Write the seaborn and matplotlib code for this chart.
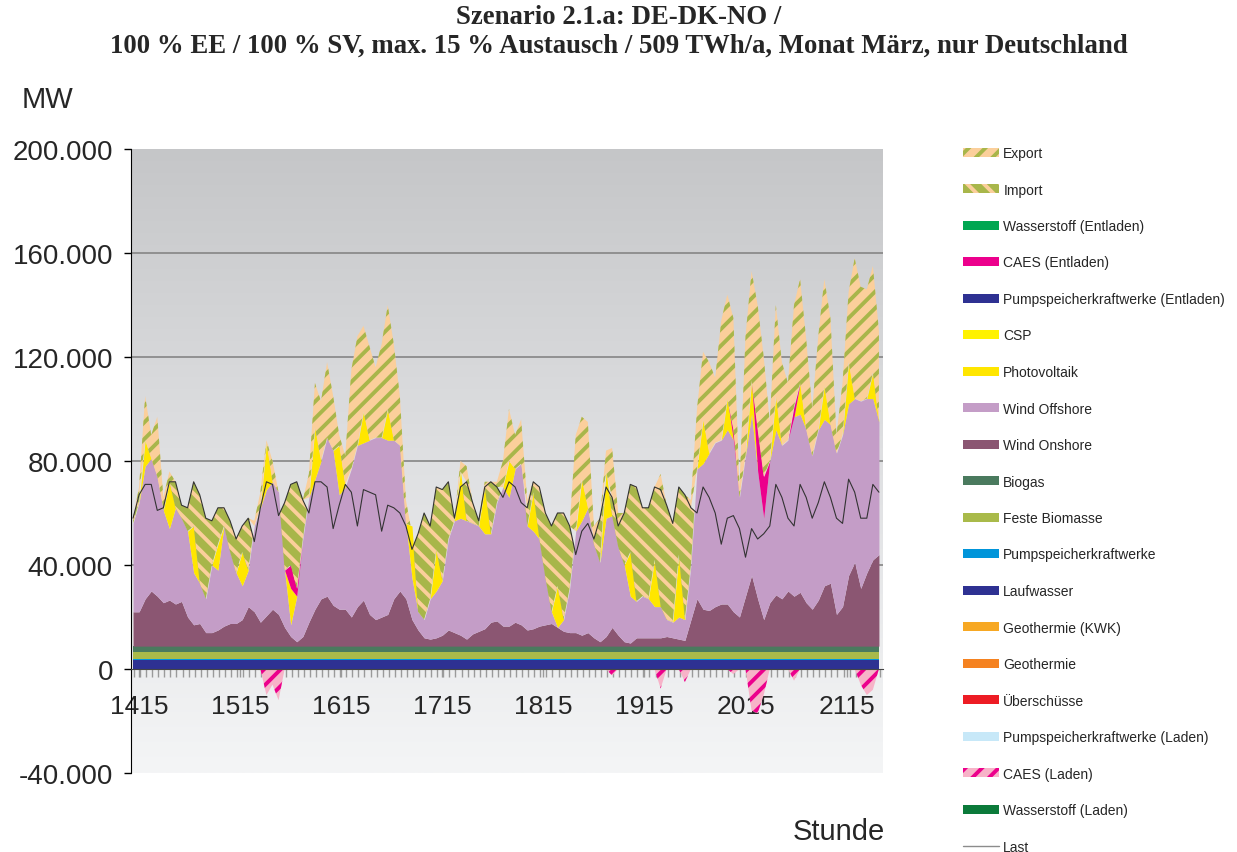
import numpy as np
import matplotlib
matplotlib.use("Agg")
import matplotlib.pyplot as plt
import matplotlib.patches as mpatches
from matplotlib.lines import Line2D
from matplotlib.colors import LinearSegmentedColormap
from matplotlib.ticker import MultipleLocator, FixedLocator, FuncFormatter
import seaborn as sns

sns.set_style("white")
plt.rcParams['font.family'] = ['Liberation Sans', 'DejaVu Sans']
plt.rcParams['hatch.linewidth'] = 2.8

# Stunden des Jahres (Maerz), Werte alle 6 h
stunden = np.arange(1409, 2150, 6)

# Sockel in MW (ueber den Monat praktisch konstant)
laufwasser = 3400
pumpspeicher = 500
feste_biomasse = 2600
biogas = 2300

# Oberkante Wind Onshore (1000 MW, gestapelt)
oberkante_onshore = [
    22, 22, 27, 30, 28, 25.5, 26.5, 25, 26, 20, 17, 17.5, 14, 14, 15, 16.5, 17.5, 17.5, 19, 24, 22,
    18, 20.5, 23, 21, 16, 12.5, 10.5, 12.5, 18, 23, 27, 28, 24.5, 23, 23, 20, 24, 26.5, 21, 19, 20,
    21, 27, 30, 27, 19, 15, 12, 11.5, 12, 13, 15, 14, 13, 11.5, 13.5, 14.5, 15.5, 18, 18.5, 16.5, 16.5,
    18, 17, 15, 15.5, 16.5, 17, 17.5, 16, 14.5, 14, 14, 13, 14, 12, 10.5, 12.5, 16, 13, 10.5, 10,
    12, 12, 12, 12, 12, 12.5, 12, 11.5, 11, 19, 27, 23, 22.5, 24, 25, 25, 22, 20, 28, 36,
    27, 19, 25.5, 28.5, 27, 30, 28, 29.5, 25.5, 23, 26.5, 32, 33, 21, 24, 36, 41, 31, 37, 42, 44]

# Oberkante Wind Offshore (1000 MW, gestapelt)
oberkante_offshore = [
    56, 64, 78, 81, 74, 61, 54, 62, 58, 53, 37, 33, 27, 40, 38, 55, 45, 37, 32, 38, 55,
    62, 69, 72, 68, 38, 17, 28, 50, 66, 73, 80, 89, 84, 67, 70, 77, 86, 87, 88, 89, 89,
    88, 88, 86, 56, 35, 22, 19, 27, 30, 34, 50, 57, 58, 57, 56, 55, 52, 52, 64, 70, 66,
    77, 79, 55, 53, 50, 35, 22, 16, 19, 31, 53, 57, 62, 48, 41, 58, 59, 47, 40, 28,
    26, 28, 27, 24, 24, 19, 18, 20, 19, 40, 77, 79, 83, 87, 88, 92, 88, 66, 82, 98,
    76, 58, 80, 92, 86, 88, 97, 98, 92, 82, 92, 96, 94, 83, 90, 102, 104, 103, 104, 104, 95]

# Photovoltaik (1000 MW)
photovoltaik = [
    0, 0, 10, 0, 0, 0, 18, 0, 0, 0, 18, 0, 0, 0, 10, 0, 0, 0, 13, 0, 0,
    0, 18, 0, 0, 0, 14, 0, 0, 0, 20, 0, 0, 0, 19, 0, 0, 0, 12, 0, 0, 0,
    12, 0, 0, 0, 20, 0, 0, 0, 16, 0, 0, 0, 18, 0, 0, 0, 18, 0, 0, 0, 14,
    0, 0, 0, 15, 0, 0, 0, 16, 0, 0, 0, 16, 0, 0, 0, 18, 0, 0, 0, 17,
    0, 0, 0, 18, 0, 0, 0, 24, 0, 0, 0, 17, 0, 0, 0, 12, 0, 0, 0, 13,
    0, 0, 0, 13, 0, 0, 0, 12, 0, 0, 0, 13, 0, 0, 0, 16, 0, 0, 0, 10, 0]

# CAES Entladen (1000 MW)
caes_entladen = [
    0, 0, 0, 0, 0, 0, 0, 0, 0, 0, 0, 0, 0, 0, 0, 0, 0, 0, 0, 0, 0,
    0, 0, 0, 0, 0, 9, 3, 0, 0, 0, 0, 0, 0, 0, 0, 0, 0, 0, 0, 0, 0,
    0, 0, 0, 0, 0, 0, 0, 0, 0, 0, 0, 0, 0, 0, 0, 0, 0, 0, 0, 0, 0,
    0, 0, 0, 0, 0, 0, 0, 0, 0, 0, 0, 0, 0, 0, 0, 0, 0, 0, 0, 0,
    0, 0, 0, 0, 0, 0, 0, 0, 0, 0, 0, 0, 0, 0, 0, 0, 4, 0, 0, 0,
    16, 16, 0, 0, 0, 0, 4, 0, 0, 0, 0, 0, 0, 0, 0, 0, 0, 0, 0, 0, 0]

# CAES Laden (1000 MW, nach unten)
caes_laden = [
    0, 0, 0, 0, 0, 0, 0, 0, 0, 0, 0, 0, 0, 0, 0, 0, 0, 0, 0, 0, 0,
    0, 10, 6, 12, 0, 0, 0, 0, 0, 0, 0, 0, 0, 0, 0, 0, 0, 0, 0, 0, 0,
    0, 0, 0, 0, 0, 0, 0, 0, 0, 0, 0, 0, 0, 0, 0, 0, 0, 0, 0, 0, 0,
    0, 0, 0, 0, 0, 0, 0, 0, 0, 0, 0, 0, 0, 0, 0, 0, 2.5, 0, 0, 0,
    0, 0, 0, 0, 7.5, 0, 0, 0, 5, 0, 0, 0, 0, 0, 0, 0, 2, 0, 0, 16,
    17, 10, 0, 0, 0, 0, 4.5, 0, 0, 0, 0, 0, 0, 0, 0, 0, 0, 6, 10, 8, 0]

# Last (1000 MW)
last = [
    58, 67, 71, 71, 61, 62, 72, 72, 63, 62, 72, 67, 58, 57, 62, 62, 57, 50, 55, 58, 49,
    62, 72, 71, 59, 64, 71, 72, 65, 60, 72, 72, 70, 54, 63, 71, 68, 55, 69, 68, 67, 53,
    63, 62, 60, 55, 46, 52, 60, 55, 70, 69, 72, 58, 70, 72, 64, 57, 70, 72, 70, 66, 72,
    70, 64, 62, 72, 70, 60, 55, 60, 60, 55, 44, 53, 56, 50, 58, 70, 66, 55, 60, 71,
    70, 62, 62, 70, 69, 63, 56, 70, 67, 62, 60, 70, 66, 60, 48, 58, 59, 54, 43, 54,
    50, 52, 55, 71, 66, 58, 55, 71, 66, 58, 64, 72, 66, 58, 56, 73, 68, 58, 58, 71, 68]

# Oberkante Import/Export (1000 MW)
oberkante_austausch = [
    58, 70, 105, 90, 97, 66, 76, 72, 63, 62, 72, 67, 58, 57, 62, 62, 57, 50, 55, 58, 57,
    68, 88, 80, 68, 64, 71, 72, 65, 75, 110, 103, 118, 105, 90, 82, 115, 128, 132, 124, 116, 125,
    140, 125, 105, 65, 52, 52, 60, 55, 70, 69, 72, 58, 80, 78, 64, 57, 72, 72, 72, 80, 100,
    90, 96, 65, 72, 70, 60, 55, 60, 60, 55, 90, 97, 95, 55, 58, 84, 85, 60, 60, 71,
    70, 62, 62, 70, 75, 63, 56, 70, 67, 65, 100, 122, 118, 112, 134, 144, 135, 70, 128, 153,
    140, 120, 95, 140, 118, 110, 140, 150, 127, 100, 128, 150, 135, 90, 110, 145, 158, 147, 146, 155, 130]

farben = {
    'Export': '#fbcf9b', 'Import': '#a8b64a', 'Wasserstoff (Entladen)': '#00a651',
    'CAES (Entladen)': '#ec008c', 'Pumpspeicherkraftwerke (Entladen)': '#2e3192',
    'CSP': '#fff200', 'Photovoltaik': '#ffe600', 'Wind Offshore': '#c49dc7',
    'Wind Onshore': '#8b5672', 'Biogas': '#4a7a5e', 'Feste Biomasse': '#a9ba4a',
    'Pumpspeicherkraftwerke': '#0095da', 'Laufwasser': '#2e3192',
    'Geothermie (KWK)': '#f7a823', 'Geothermie': '#f58220', 'Überschüsse': '#ed1c24',
    'Pumpspeicherkraftwerke (Laden)': '#c7e8f8', 'CAES (Laden)': '#f7b3c8',
    'Wasserstoff (Laden)': '#0b7a3a',
}

k = 1000.0
on_top = np.array(oberkante_onshore) * k
off_top = np.array(oberkante_offshore) * k
pv_top = off_top + np.array(photovoltaik) * k
gen_top = pv_top + np.array(caes_entladen) * k
last_mw = np.array(last) * k
aus_top = np.array(oberkante_austausch) * k

s1 = laufwasser
s2 = s1 + pumpspeicher
s3 = s2 + feste_biomasse
s4 = s3 + biogas

fig = plt.figure(figsize=(12.37, 8.53), dpi=100)
ax = fig.add_axes([0.1059, 0.0926, 0.6079, 0.7316])

xmin, xmax = 1407, 2151
grad = np.linspace(0, 1, 256).reshape(-1, 1)
bg = LinearSegmentedColormap.from_list('bg', ['#c5c6c8', '#dfe0e2', '#f4f5f6'])
ax.imshow(grad, cmap=bg, aspect='auto', extent=[xmin, xmax, -40000, 200000], zorder=0)

for v in range(40000, 200000, 40000):
    ax.axhline(v, color='#858585', lw=1.2, zorder=1)

kw = dict(linewidth=0, zorder=2)
ax.fill_between(stunden, 0, s1, color=farben['Laufwasser'], **kw)
ax.fill_between(stunden, s1, s2, color=farben['Pumpspeicherkraftwerke'], **kw)
ax.fill_between(stunden, s2, s3, color=farben['Feste Biomasse'], **kw)
ax.fill_between(stunden, s3, s4, color=farben['Biogas'], **kw)
ax.fill_between(stunden, s4, np.maximum(on_top, s4), color=farben['Wind Onshore'], **kw)
ax.fill_between(stunden, on_top, off_top, color=farben['Wind Offshore'], **kw)
ax.fill_between(stunden, off_top, pv_top, color=farben['Photovoltaik'], **kw)
ax.fill_between(stunden, pv_top, gen_top, color=farben['CAES (Entladen)'], **kw)

# Import bis zur Last, Export darueber
ax.fill_between(stunden, gen_top, last_mw, where=last_mw > gen_top, interpolate=True,
                facecolor=farben['Import'], edgecolor=farben['Export'], hatch='\\\\',
                linewidth=0, zorder=2)
unten = np.maximum(gen_top, last_mw)
ax.fill_between(stunden, unten, aus_top, where=aus_top > unten, interpolate=True,
                facecolor=farben['Export'], edgecolor=farben['Import'], hatch='//',
                linewidth=0, zorder=2)

# CAES Laden unter der Nulllinie
ax.fill_between(stunden, 0, -np.array(caes_laden) * k, facecolor=farben['CAES (Laden)'],
                edgecolor=farben['CAES (Entladen)'], hatch='//', linewidth=0, zorder=2)

sns.lineplot(x=stunden, y=last_mw, ax=ax, color='#333333', lw=0.8, zorder=3)

ax.set_xlim(xmin, xmax)
ax.set_ylim(-40000, 200000)
ax.spines['top'].set_visible(False)
ax.spines['right'].set_visible(False)
ax.spines['left'].set_color('black')
ax.spines['bottom'].set_position(('data', 0))
ax.spines['bottom'].set_color('#444444')
ax.spines['bottom'].set_zorder(4)

ax.xaxis.set_major_locator(FixedLocator(range(1415, 2116, 100)))
ax.xaxis.set_minor_locator(MultipleLocator(6))
ax.tick_params(axis='x', which='both', direction='out', length=6, width=1,
               color='#9a9a9a', labelsize=19, pad=12, bottom=True)
ax.set_yticks(range(-40000, 200001, 40000))
ax.yaxis.set_major_formatter(FuncFormatter(lambda v, p: f"{int(v):,}".replace(',', '.')))
ax.tick_params(axis='y', direction='out', length=5, width=1, color='black',
               labelsize=20, pad=8, left=True)

fig.text(0.5, 1 - 18 / 853, 'Szenario 2.1.a: DE-DK-NO /', ha='center', va='center',
         fontsize=19.3, fontweight='bold', family='Liberation Serif')
fig.text(0.5, 1 - 46 / 853,
         '100 % EE / 100 % SV, max. 15 % Austausch / 509 TWh/a, Monat März, nur Deutschland',
         ha='center', va='center', fontsize=19.3, fontweight='bold', family='Liberation Serif')
fig.text(22 / 1237, 1 - 100 / 853, 'MW', ha='left', va='center', fontsize=21)
fig.text(885 / 1237, 1 - 832 / 853, 'Stunde', ha='right', va='center', fontsize=21)

# Legende
reihenfolge = ['Export', 'Import', 'Wasserstoff (Entladen)', 'CAES (Entladen)',
               'Pumpspeicherkraftwerke (Entladen)', 'CSP', 'Photovoltaik', 'Wind Offshore',
               'Wind Onshore', 'Biogas', 'Feste Biomasse', 'Pumpspeicherkraftwerke',
               'Laufwasser', 'Geothermie (KWK)', 'Geothermie', 'Überschüsse',
               'Pumpspeicherkraftwerke (Laden)', 'CAES (Laden)', 'Wasserstoff (Laden)']
schraffur = {'Export': ('//', farben['Import']), 'Import': ('\\\\', farben['Export']),
             'CAES (Laden)': ('//', farben['CAES (Entladen)'])}
handles = []
for name in reihenfolge:
    if name in schraffur:
        h, ec = schraffur[name]
        handles.append(mpatches.Patch(facecolor=farben[name], edgecolor=ec, hatch=h,
                                      linewidth=0, label=name))
    else:
        handles.append(mpatches.Patch(facecolor=farben[name], linewidth=0, label=name))
handles.append(Line2D([], [], color='#8c8c8c', lw=1, label='Last'))

fig.legend(handles=handles, loc='upper left', bbox_to_anchor=(963 / 1237, 1 - 147 / 853),
           frameon=False, fontsize=10, handlelength=2.6, handleheight=0.6,
           handletextpad=0.3, labelspacing=1.62, borderpad=0, borderaxespad=0)

fig.savefig('out.png', dpi=100)
